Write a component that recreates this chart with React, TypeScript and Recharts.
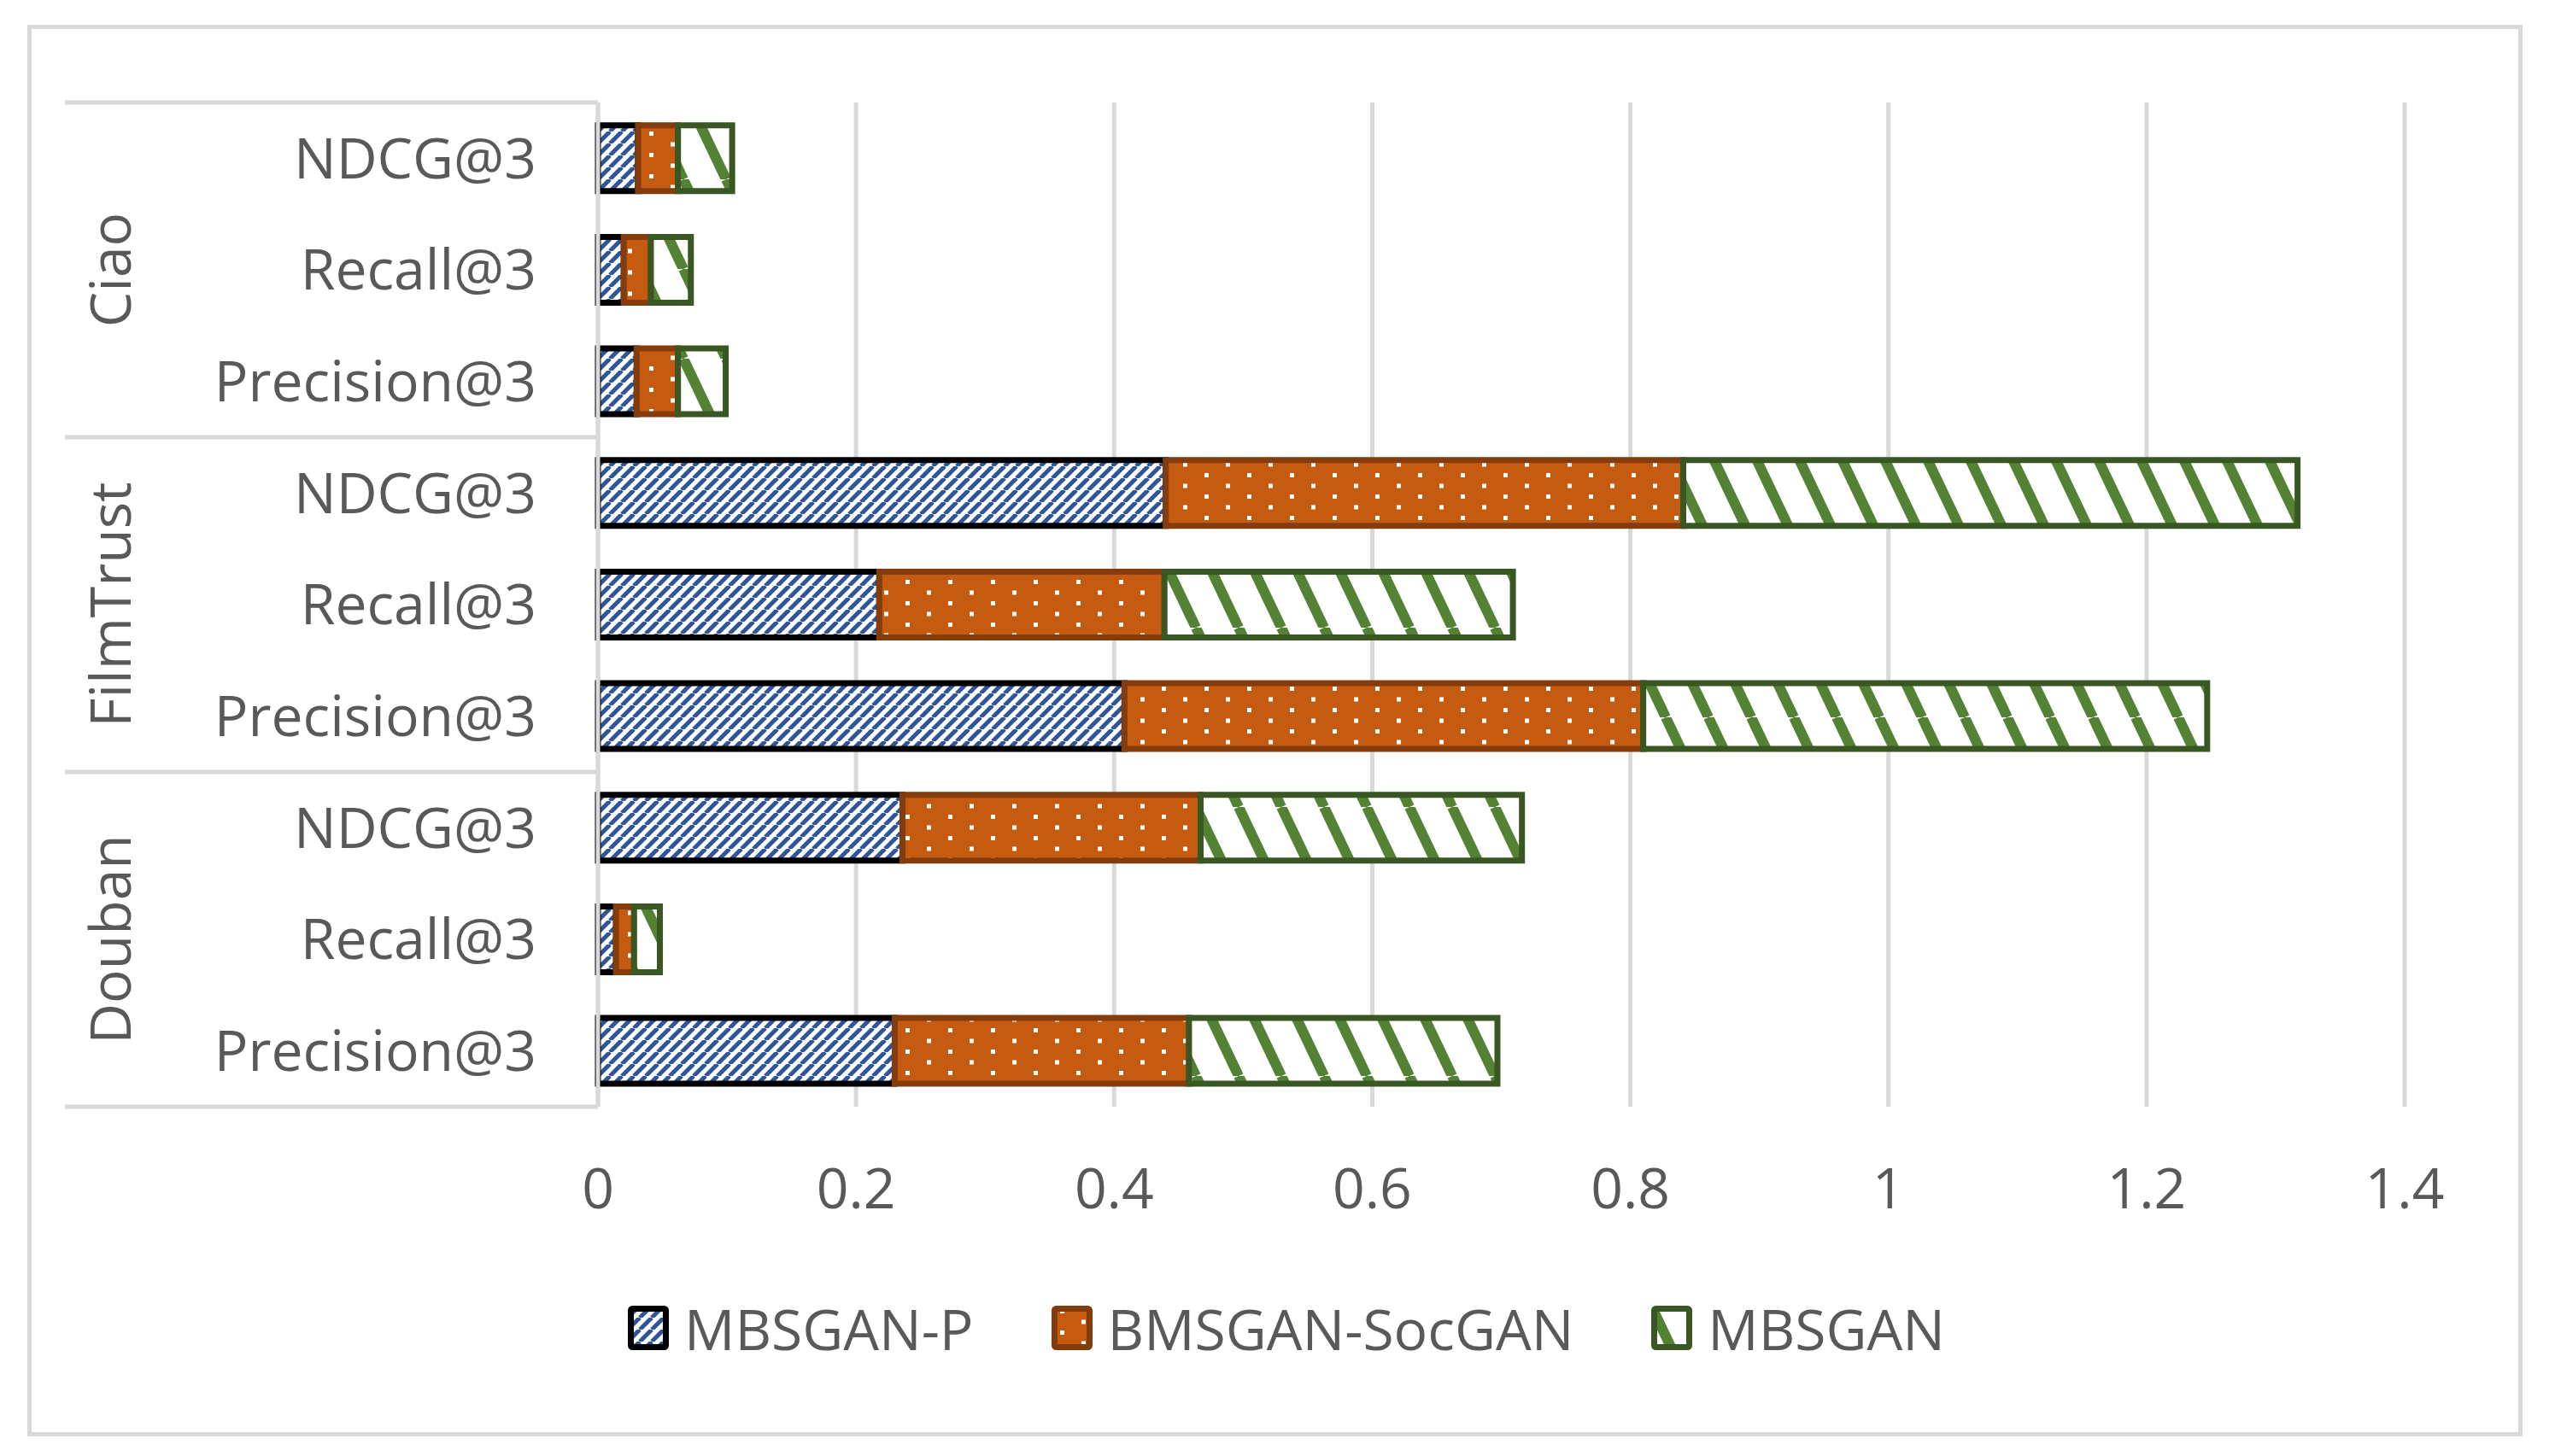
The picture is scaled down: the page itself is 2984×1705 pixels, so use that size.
import React from "react";
import {
  BarChart, Bar, XAxis, YAxis, CartesianGrid, Legend,
} from "recharts";

// rows listed top to bottom, as drawn
const groups = ["Ciao", "Ciao", "Ciao", "FilmTrust", "FilmTrust", "FilmTrust", "Douban", "Douban", "Douban"];
const metrics = ["NDCG@3", "Recall@3", "Precision@3", "NDCG@3", "Recall@3", "Precision@3", "NDCG@3", "Recall@3", "Precision@3"];

const mbsganP = [0.031, 0.020, 0.030, 0.440, 0.218, 0.408, 0.236, 0.014, 0.230];
const socGan = [0.031, 0.021, 0.032, 0.401, 0.221, 0.402, 0.231, 0.014, 0.228];
const mbsgan = [0.042, 0.031, 0.037, 0.476, 0.270, 0.437, 0.249, 0.020, 0.239];

const xTicks = [0, 0.2, 0.4, 0.6, 0.8, 1, 1.2, 1.4];

const seriesNames = ["MBSGAN-P", "BMSGAN-SocGAN", "MBSGAN"];

const FONT = '"Open Sans", "Noto Sans", sans-serif';
const TEXT = "#595959";
const GRID = "#d9d9d9";

const W = 2984;
const H = 1705;
const MARGIN = { top: 120, right: 169, bottom: 259, left: 76 };
const Y_AXIS_W = 624;
const X_AXIS_H = 150;
const TICK_GAP = 72;
const FS = 66;

const PLOT_H = H - MARGIN.top - MARGIN.bottom - X_AXIS_H;

const rows = metrics.map((m, i) => ({
  key: `${groups[i]}-${m}`,
  metric: m,
  group: groups[i],
  p: mbsganP[i],
  s: socGan[i],
  m: mbsgan[i],
}));

const swatches = [
  { fill: "url(#patBlue)", stroke: "#000000" },
  { fill: "url(#patOrange)", stroke: "#843c0c" },
  { fill: "url(#patGreen)", stroke: "#385723" },
];

// y tick: metric label, plus the group dividers and rotated group name
function CategoryTick(props: any) {
  const { x, y, payload } = props;
  const i: number = payload.index ?? props.index;
  const half = PLOT_H / rows.length / 2;
  const axisX = x + TICK_GAP;
  const leftX = axisX - Y_AXIS_W;
  const row = rows[i];
  return (
    <g>
      <text x={x} y={y} dy="0.355em" textAnchor="end" fontSize={FS} fill={TEXT} fontFamily={FONT}>
        {row ? row.metric : payload.value}
      </text>
      {i % 3 === 0 && (
        <line x1={leftX} x2={axisX} y1={y - half} y2={y - half} stroke={GRID} strokeWidth={5} />
      )}
      {i === rows.length - 1 && (
        <line x1={leftX} x2={axisX} y1={y + half} y2={y + half} stroke={GRID} strokeWidth={5} />
      )}
      {i % 3 === 1 && (
        <text
          x={leftX + 54}
          y={y}
          dy="0.355em"
          textAnchor="middle"
          fontSize={FS}
          fill={TEXT}
          fontFamily={FONT}
          transform={`rotate(-90, ${leftX + 54}, ${y})`}
        >
          {row.group}
        </text>
      )}
    </g>
  );
}

function LegendContent() {
  return (
    <div
      style={{
        display: "flex",
        justifyContent: "center",
        alignItems: "center",
        gap: 91,
        paddingLeft: 28,
        fontFamily: FONT,
        fontSize: FS,
        color: TEXT,
        lineHeight: 1,
      }}
    >
      {seriesNames.map((name, i) => (
        <div key={name} style={{ display: "flex", alignItems: "center", gap: 18 }}>
          <svg width={48} height={52}>
            <rect x={3.5} y={3.5} width={41} height={45} rx={2} fill={swatches[i].fill}
              stroke={swatches[i].stroke} strokeWidth={7} />
          </svg>
          <span>{name}</span>
        </div>
      ))}
    </div>
  );
}

export default function App() {
  return (
    <div style={{ position: "relative", width: W, height: H, background: "#fff", fontFamily: FONT }}>
      <style>{"body{margin:0}"}</style>
      <div
        style={{
          position: "absolute", left: 32, top: 29, width: 2921, height: 1653,
          border: `5px solid ${GRID}`, boxSizing: "border-box",
        }}
      />
      <BarChart
        width={W}
        height={H}
        data={rows}
        layout="vertical"
        margin={MARGIN}
        barCategoryGap="20.5%"
      >
        <defs>
          <pattern id="patBlue" patternUnits="userSpaceOnUse" width={14} height={14}>
            <rect width={14} height={14} fill="#ffffff" />
            {[-14, 0, 14].map((dx) => (
              <line key={dx} x1={dx} y1={14} x2={dx + 14} y2={0} stroke="#2f5597" strokeWidth={5} />
            ))}
          </pattern>
          <pattern id="patOrange" patternUnits="userSpaceOnUse" width={50} height={25}>
            <rect width={50} height={25} fill="#c55a11" />
            <rect x={10} y={4} width={5} height={5} fill="#ffffff" />
            <rect x={35} y={16.5} width={5} height={5} fill="#ffffff" />
          </pattern>
          <pattern id="patGreen" patternUnits="userSpaceOnUse" width={50} height={105}>
            <rect width={50} height={105} fill="#ffffff" />
            {[-50, 0, 50].map((dx) => (
              <line key={dx} x1={dx} y1={0} x2={dx + 50} y2={105} stroke="#548235" strokeWidth={12} />
            ))}
          </pattern>
        </defs>
        <CartesianGrid horizontal={false} stroke={GRID} strokeWidth={5} />
        <XAxis
          type="number"
          domain={[0, 1.4]}
          ticks={xTicks}
          interval={0}
          height={X_AXIS_H}
          axisLine={false}
          tickLine={false}
          tickSize={0}
          tickMargin={TICK_GAP}
          tick={{ fontSize: FS, fill: TEXT, fontFamily: FONT }}
          tickFormatter={(v) => String(v)}
        />
        <Legend
          verticalAlign="middle"
          align="center"
          layout="horizontal"
          wrapperStyle={{ top: 1522, left: 0, width: W }}
          content={<LegendContent />}
        />
        <Bar dataKey="p" name={seriesNames[0]} stackId="s" fill="url(#patBlue)"
          stroke="#000000" strokeWidth={7} isAnimationActive={false} />
        <Bar dataKey="s" name={seriesNames[1]} stackId="s" fill="url(#patOrange)"
          stroke="#843c0c" strokeWidth={7} isAnimationActive={false} />
        <Bar dataKey="m" name={seriesNames[2]} stackId="s" fill="url(#patGreen)"
          stroke="#385723" strokeWidth={7} isAnimationActive={false} />
        <YAxis
          type="category"
          dataKey="key"
          width={Y_AXIS_W}
          interval={0}
          axisLine={{ stroke: GRID, strokeWidth: 5 }}
          tickLine={false}
          tickSize={0}
          tickMargin={TICK_GAP}
          tick={<CategoryTick />}
        />
      </BarChart>
    </div>
  );
}
